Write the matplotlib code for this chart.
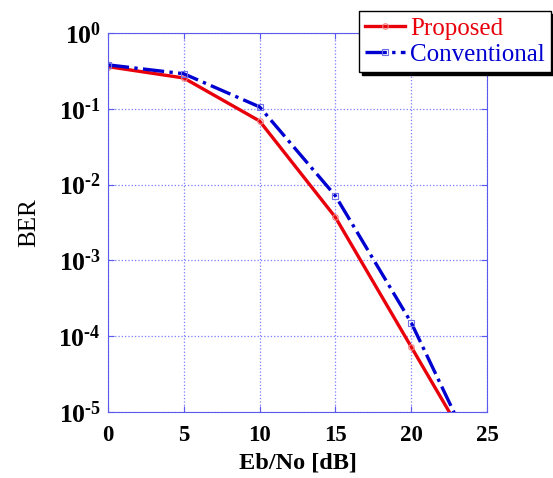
import numpy as np
import matplotlib
matplotlib.use("Agg")
import matplotlib.pyplot as plt

# valores
snr = [0, 5, 10, 15, 20, 25]
ber_proposto = [0.36, 0.255, 0.069, 0.0037, 7.2e-5, 1.4e-6]
ber_convencional = [0.38, 0.29, 0.106, 0.0071, 1.5e-4, 1.2e-6]
xticks = [0, 5, 10, 15, 20, 25]
yticks = [1e-5, 1e-4, 1e-3, 1e-2, 1e-1, 1e0]
ytick_labels = [r'$\mathbf{10^{\text{-}5}}$', r'$\mathbf{10^{\text{-}4}}$',
                r'$\mathbf{10^{\text{-}3}}$', r'$\mathbf{10^{\text{-}2}}$',
                r'$\mathbf{10^{\text{-}1}}$', r'$\mathbf{10^{0}}$']

plt.rcParams['font.family'] = ['Liberation Serif', 'DejaVu Serif']
plt.rcParams['mathtext.fontset'] = 'custom'
plt.rcParams['mathtext.rm'] = 'Liberation Serif:bold'
plt.rcParams['mathtext.bf'] = 'Liberation Serif:bold'
plt.rcParams['font.weight'] = 'bold'

fig = plt.figure(figsize=(5.53, 4.78), dpi=100)
ax = fig.add_axes([0.195, 0.138, 0.686, 0.793])

cor_eixo = '#5a5aee'

ax.semilogy(snr, ber_proposto, '-', color='#e8000b', lw=2.4,
            marker='o', ms=4, mfc='none', mec='#f08080', mew=0.8,
            markevery=[0, 1, 2, 3, 4], label='Proposed')
ax.semilogy(snr, ber_convencional, '-.', color='#0000d0', lw=2.4,
            marker='s', ms=5, mfc='none', mec='#6f6fe8', mew=0.8,
            markevery=[0, 1, 2, 3, 4], label='Conventional')

ax.set_xlim(0, 25)
ax.set_ylim(1e-5, 1)
ax.set_xticks(xticks)
ax.set_yticks(yticks)
ax.set_yticklabels(ytick_labels)
ax.yaxis.set_minor_locator(matplotlib.ticker.NullLocator())

ax.grid(True, which='major', color='#7b7bff', linestyle=':', linewidth=0.9)
for s in ax.spines.values():
    s.set_color(cor_eixo)
ax.tick_params(direction='in', colors=cor_eixo, labelcolor='black',
               top=True, right=True, length=4)
ax.tick_params(axis='x', pad=9, labelsize=16.5)
ax.tick_params(axis='y', pad=5, labelsize=18.5)
for lbl in ax.get_xticklabels():
    lbl.set_fontweight('bold')

ax.set_xlabel('Eb/No [dB]', fontsize=17.5, fontweight='bold', labelpad=5)
ax.set_ylabel('BER', fontsize=18, fontweight='normal', labelpad=13)

leg = ax.legend(loc='upper right', bbox_to_anchor=(0.997, 0.977),
                bbox_transform=fig.transFigure,
                prop={'size': 18, 'weight': 'normal'},
                fancybox=False, shadow={'color': 'black', 'alpha': 1},
                edgecolor='black', framealpha=1, handlelength=1.6,
                handletextpad=0.2, borderpad=0.25, labelspacing=0.15,
                borderaxespad=0)
leg.get_frame().set_linewidth(1.0)
for txt, c in zip(leg.get_texts(), ['#e8000b', '#0000d0']):
    txt.set_color(c)

fig.savefig('out.png', dpi=100)
